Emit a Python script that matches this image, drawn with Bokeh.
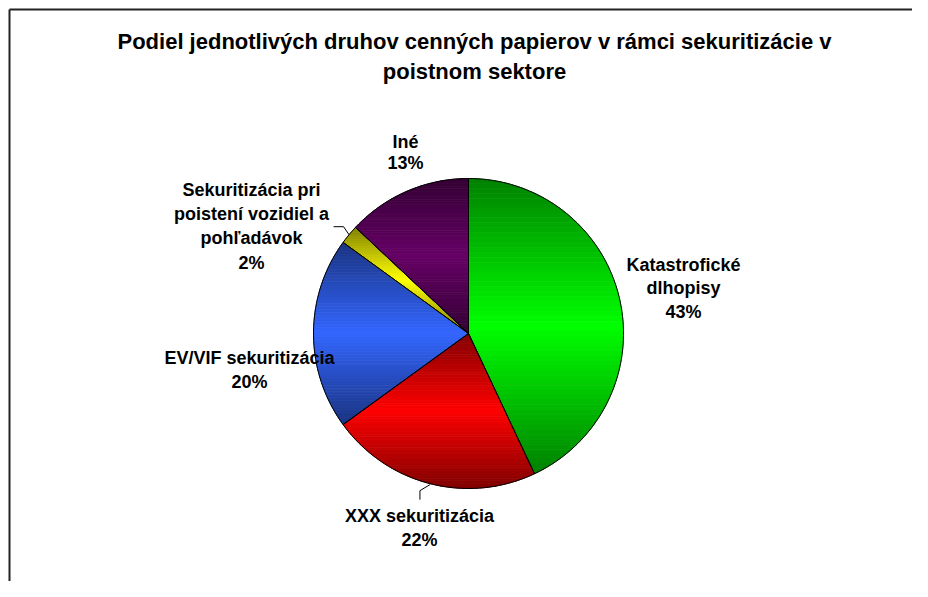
import numpy as np
from bokeh.plotting import figure
from bokeh.models import Range1d
from bokeh.core.properties import value
from bokeh.embed import file_html
from bokeh.resources import INLINE

# ---------------- data ----------------
title_lines = ["Podiel jednotlivých druhov cenných papierov v rámci sekuritizácie v",
               "poistnom sektore"]
categories = ["Katastrofické dlhopisy", "XXX sekuritizácia", "EV/VIF sekuritizácia",
              "Sekuritizácia pri poistení vozidiel a pohľadávok", "Iné"]
values = [43, 22, 20, 2, 13]
label_lines = [["Katastrofické", "dlhopisy"],
               ["XXX sekuritizácia"],
               ["EV/VIF sekuritizácia"],
               ["Sekuritizácia pri", "poistení vozidiel a", "pohľadávok"],
               ["Iné"]]

# ---------------- style / layout ----------------
bright = [(0, 255, 0), (255, 0, 0), (51, 102, 255), (255, 255, 0), (102, 0, 102)]
dark = [(0, 128, 0), (128, 0, 0), (26, 51, 128), (128, 128, 0), (51, 0, 51)]
label_anchor = [(683, 264, 23.5), (419, 515, 24), (249, 357, 24), (251, 189.5, 24.2), (405, 141, 21)]
W, H = 912, 581
cx, cy, R = 468.0, 333.0, 155.0
FONT = value("Liberation Sans")

p = figure(width=W, height=H, x_range=Range1d(0, W), y_range=Range1d(H, 0),
           output_backend="svg", toolbar_location=None, min_border=0,
           x_axis_type=None, y_axis_type=None, outline_line_color=None,
           background_fill_color="white", border_fill_color="white")
p.grid.visible = False


def clip_half(pts, yc, keep_greater):
    out = []
    n = len(pts)
    for i in range(n):
        P = pts[i]
        Q = pts[(i + 1) % n]
        inP = P[1] >= yc if keep_greater else P[1] <= yc
        inQ = Q[1] >= yc if keep_greater else Q[1] <= yc
        if inP:
            out.append(P)
        if inP != inQ:
            t = (yc - P[1]) / (Q[1] - P[1])
            out.append((P[0] + t * (Q[0] - P[0]), yc))
    return out


total = float(sum(values))
band_xs, band_ys, band_cols = [], [], []
out_xs, out_ys = [], []
mid_angles = []
start = 0.0
for i, v in enumerate(values):
    a0 = start
    a1 = start + 2 * np.pi * v / total
    start = a1
    mid_angles.append((a0 + a1) / 2)
    n = max(4, int(200 * v / total) + 2)
    ang = np.linspace(a0, a1, n)
    pts = [(cx, cy)] + [(cx + R * np.sin(a), cy - R * np.cos(a)) for a in ang]
    out_xs.append([q[0] for q in pts])
    out_ys.append([q[1] for q in pts])
    ys = [q[1] for q in pts]
    ymin, ymax = min(ys), max(ys)
    mid = (ymin + ymax) / 2
    half = (ymax - ymin) / 2
    nb = 60
    h = (ymax - ymin) / nb
    for k in range(nb):
        y0 = ymin + k * h
        y1 = y0 + h
        poly = clip_half(pts, y0, True)
        if len(poly) < 3:
            continue
        poly = clip_half(poly, y1, False)
        if len(poly) < 3:
            continue
        ym = (y0 + y1) / 2
        s = abs(ym - mid) / half
        c = tuple(int(round(bright[i][j] * (1 - s) + dark[i][j] * s)) for j in range(3))
        col = "#%02x%02x%02x" % c
        band_xs.append([q[0] for q in poly])
        band_ys.append([q[1] for q in poly])
        band_cols.append(col)

p.patches(band_xs, band_ys, fill_color=band_cols, line_color=band_cols, line_width=0.8)
p.patches(out_xs, out_ys, fill_color=None, line_color="black", line_width=1)

# leader lines (small slices)
ma = mid_angles[3]
ex, ey = cx + R * np.sin(ma), cy - R * np.cos(ma)
p.line([ex, ex - 5.5, ex - 15.5], [ey, ey - 8, ey - 8], line_color="black", line_width=1)
ma = mid_angles[1]
ex, ey = cx + R * np.sin(ma), cy - R * np.cos(ma)
p.line([ex, ex - 10, ex - 10], [ey + 1, ey + 7, ey + 16], line_color="black", line_width=1)

# labels
for i, lines in enumerate(label_lines):
    x0, y0, dy = label_anchor[i]
    txt = lines + ["%d%%" % values[i]]
    p.text(x=[x0] * len(txt), y=[y0 + k * dy for k in range(len(txt))], text=txt,
           text_font=FONT, text_font_style="bold", text_font_size="18px",
           text_align="center", text_baseline="middle", text_color="black")

# title
p.text(x=[474, 474], y=[41, 71], text=title_lines, text_font=FONT,
       text_font_style="bold", text_font_size="22px", text_align="center",
       text_baseline="middle", text_color="black")

# chart frame (left and top edges visible)
p.line([9, 9], [H, 9], line_color="#222222", line_width=2)
p.line([9, W], [9, 9], line_color="#222222", line_width=2)

open("out.html", "w").write(file_html(p, INLINE))
